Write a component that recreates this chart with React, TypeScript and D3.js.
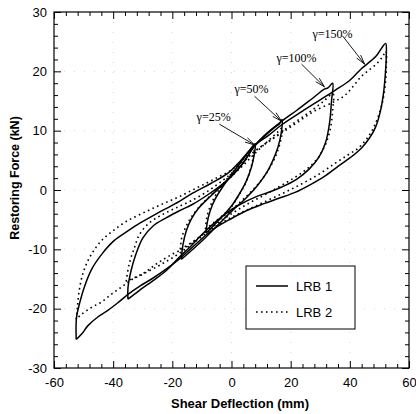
import React, { useEffect, useRef } from 'react';
import * as d3 from 'd3';

// tick values
const xTicks = [-60, -40, -20, 0, 20, 40, 60];
const yTicks = [-30, -20, -10, 0, 10, 20, 30];

// hysteresis loops: [shear deflection (mm), restoring force (kN)]
// each loop goes from the negative tip up the loading branch and back down
const lrb1G25 = [
  [-8.6, -7.3], [-8.2, -5.5], [-7.2, -3.5], [-5.5, -1.5], [-3, 0.5], [0, 2.6], [3, 4.6], [6, 6.6], [8, 7.8],
  [7.7, 6], [6.7, 3.8], [5, 1.5], [2.5, -0.8], [0, -2.7], [-3, -4.4], [-6, -6.0], [-8.6, -7.3],
];
const lrb2G25 = [
  [-8.8, -6.6], [-8.4, -4.8], [-7.3, -2.9], [-5.5, -1.0], [-3, 0.9], [0, 2.8], [3, 4.6], [5.8, 6.2], [7.6, 7.2],
  [7.3, 5.4], [6.3, 3.3], [4.6, 1.0], [2.2, -1.1], [0, -2.8], [-3, -4.3], [-6, -5.5], [-8.8, -6.6],
];
const lrb1G50 = [
  [-17, -11.7], [-16.4, -9.2], [-15.3, -6.9], [-13.6, -4.9], [-11, -3.0], [-7, -1.0], [-3, 0.9], [0, 2.4],
  [4, 4.6], [7.5, 7.2], [11, 9.0], [14.5, 10.5], [16.3, 11.2], [17.1, 11.9],
  [16.9, 9.9], [15.7, 7.2], [14, 5.0], [12, 3.0], [9, 0.9], [5, -1.3], [0, -3.6], [-5, -6.1], [-10, -8.6],
  [-14, -10.4], [-17, -11.7],
];
const lrb2G50 = [
  [-17.3, -10], [-16.8, -8], [-15.5, -6.3], [-13.9, -4.8], [-11, -2.9], [-7, -0.9], [-3, 0.9], [0, 2.3],
  [4, 4.2], [8, 6.2], [12, 8.1], [15.5, 9.7], [17.2, 10.5],
  [16.7, 8.5], [15.3, 6.2], [13.2, 4.0], [10, 1.6], [6, -0.6], [1, -2.9], [-4, -5.0], [-9, -7.2],
  [-13, -8.7], [-17.3, -10],
];
const lrb1G100 = [
  [-35, -18.4], [-35, -16.5], [-34, -13.7], [-32.3, -10.8], [-30, -8.1], [-26.6, -6.1], [-22.1, -4.7],
  [-17.6, -3.5], [-13.1, -2.4], [-8, -0.8], [-3, 1.0], [0, 2.3], [4, 4.6], [7.5, 7.3], [12, 9.6], [17, 11.6],
  [22, 13.4], [27, 15.3], [31.4, 17.0], [32.6, 17.2], [34.2, 18.0],
  [33.8, 15], [33.2, 11.5], [31.8, 8], [29.5, 5.5], [26.4, 3.6], [22, 1.8], [17, 0.5], [13, -0.3], [8, -1.2],
  [3, -2.4], [0, -3.3], [-5, -5.2], [-10, -7.5], [-14, -9.6], [-17.6, -11.3], [-22.1, -13.6], [-26.6, -15.3],
  [-31.1, -16.9], [-35, -18.4],
];
const lrb2G100 = [
  [-35.6, -15.4], [-34.6, -12.5], [-32.8, -9.7], [-31.1, -7.5], [-27.7, -5.5], [-23.2, -4.1], [-18.7, -3.0],
  [-13.6, -1.8], [-8, -0.2], [-3, 1.6], [0, 2.8], [4, 4.7], [8, 6.6], [14, 8.7], [20, 10.9], [26, 13],
  [31, 14.9], [34.3, 16.2],
  [34.2, 13.5], [33.4, 10.3], [31.6, 7.5], [28.6, 5.0], [24, 3.0], [18, 1.1], [12, -0.6], [6, -2.2], [0, -4.0],
  [-6, -6.1], [-11, -8.0], [-15.3, -9.6], [-21, -11.1], [-25.5, -12.5], [-30, -14.1], [-35.6, -15.4],
];
const lrb1G150 = [
  [-52.5, -25.2], [-52.4, -21.5], [-51.4, -19.2], [-49.7, -16.3], [-47.2, -13.3], [-43.5, -10.6], [-39.6, -8.5],
  [-35, -6.9], [-31, -5.6], [-25, -3.9], [-19, -2.3], [-13, -0.5], [-7, 1.1], [-1.3, 2.8], [3, 4.9], [7.5, 7.4],
  [12.5, 9.2], [17, 11.0], [24, 13.3], [30, 15.2], [35, 16.8], [40, 18.5], [43.8, 20.4], [45.5, 21.1],
  [48.9, 22.6], [52.1, 24.7],
  [52.3, 22.5], [52, 19.5], [51.3, 16], [50.2, 13], [48.7, 10.6], [46.7, 8.8], [43.8, 7.0], [40, 5.4], [36, 4.0],
  [31.4, 2.3], [27, 1.0], [21.5, -0.4], [16, -1.4], [11, -2.3], [5, -3.5], [0, -4.8], [-6.4, -6.7], [-12, -9.1],
  [-17.6, -11.6], [-22, -13.3], [-27, -15], [-31, -16.2], [-35, -17.6], [-38.4, -19], [-41.8, -20.3],
  [-45.2, -21.4], [-48.6, -22.9], [-50.5, -24.2], [-52.5, -25.2],
];
const lrb2G150 = [
  [-52.5, -21.8], [-52.1, -19.8], [-51.5, -17], [-50.3, -14.2], [-48.6, -12], [-46.3, -10], [-43.5, -8.3],
  [-40.1, -6.9], [-35.6, -5.3], [-30, -3.9], [-24, -2.5], [-18, -1.2], [-12, 0.3], [-6, 1.8], [0, 3.4], [5, 5.4],
  [10, 7.3], [16, 9.3], [22, 11.3], [28, 13.3], [34.8, 14.9], [38.2, 15.9], [41, 17.4], [43.8, 19.1],
  [46.7, 20.3], [49.5, 21.5], [51.2, 22.6], [52.2, 23.4],
  [52.3, 20.5], [51.9, 17.5], [51, 14.7], [49.6, 12.4], [47.8, 10.3], [45.5, 8.5], [42.7, 7.0], [39.3, 5.9],
  [35, 4.5], [30, 2.8], [24, 1.1], [18, -0.4], [12, -1.8], [6, -3.2], [0, -4.6], [-6, -6.4], [-12, -8.6],
  [-18, -10.8], [-24, -12.6], [-30, -14.2], [-34, -15.2], [-37.3, -16.4], [-40.7, -17.6], [-44, -18.9],
  [-47.4, -19.8], [-50.8, -21], [-52.5, -21.8],
];

const lrb1Loops = [lrb1G25, lrb1G50, lrb1G100, lrb1G150];
const lrb2Loops = [lrb2G25, lrb2G50, lrb2G100, lrb2G150];

// annotation labels: text, text anchor point, arrow start, arrow end (data units)
const annotations = [
  { label: 'γ=25%', at: [-11.8, 11.7], from: [-4.1, 11.1], to: [7.8, 7.6] },
  { label: 'γ=50%', at: [1.0, 16.3], from: [7.8, 15.8], to: [16.9, 11.6] },
  { label: 'γ=100%', at: [15.2, 21.6], from: [23.7, 21.2], to: [31.4, 17.4] },
  { label: 'γ=150%', at: [27.4, 25.6], from: [37.5, 26.0], to: [45.0, 21.2] },
];

const legendItems = ['LRB 1', 'LRB 2'];

const W = 416;
const H = 414;
const sans = "'Liberation Sans', Arial, Helvetica, sans-serif";

export default function App() {
  const ref = useRef<SVGSVGElement>(null);

  useEffect(() => {
    const svg = d3.select(ref.current);
    svg.selectAll('*').remove();

    const margin = { top: 12, right: 7, bottom: 46, left: 54 };
    const x = d3.scaleLinear().domain([-60, 60]).range([margin.left, W - margin.right]);
    const y = d3.scaleLinear().domain([-30, 30]).range([H - margin.bottom, margin.top]);
    const x0 = x.range()[0], x1 = x.range()[1];
    const y0 = y.range()[1], y1 = y.range()[0];

    svg.append('rect').attr('width', W).attr('height', H).attr('fill', '#fff');

    // faint dotted grid from the scan
    const grid = svg.append('g').attr('stroke', '#999').attr('stroke-width', 0.8)
      .attr('stroke-dasharray', '1,9').attr('opacity', 0.5);
    grid.selectAll('line.v').data(xTicks.slice(1, -1)).join('line')
      .attr('x1', d => x(d)).attr('x2', d => x(d)).attr('y1', y0).attr('y2', y1);
    grid.selectAll('line.h').data(yTicks.slice(1, -1)).join('line').attr('class', 'h')
      .attr('x1', x0).attr('x2', x1).attr('y1', d => y(d)).attr('y2', d => y(d));

    const xMinor = d3.range(-60, 61, 4).filter(v => v % 20 !== 0);
    const yMinor = d3.range(-30, 31, 2).filter(v => v % 10 !== 0);
    const plain = (d: any) => String(d); // hyphen minus like the original

    const styleAxis = (g: any) => {
      g.select('.domain').remove();
      g.selectAll('line').attr('stroke', '#000').attr('stroke-width', 1);
      g.selectAll('text').attr('font-family', sans).attr('font-size', 13).attr('fill', '#000');
    };

    svg.append('g').attr('transform', `translate(0,${y1})`)
      .call(d3.axisBottom(x).tickValues(xTicks).tickSize(-7).tickPadding(10).tickFormat(plain))
      .call(styleAxis);
    svg.append('g').attr('transform', `translate(0,${y1})`)
      .call(d3.axisBottom(x).tickValues(xMinor).tickSize(-4).tickFormat(() => ''))
      .call(styleAxis);
    svg.append('g').attr('transform', `translate(0,${y0})`)
      .call(d3.axisTop(x).tickValues(xTicks).tickSize(-7).tickFormat(() => ''))
      .call(styleAxis);
    svg.append('g').attr('transform', `translate(0,${y0})`)
      .call(d3.axisTop(x).tickValues(xMinor).tickSize(-4).tickFormat(() => ''))
      .call(styleAxis);
    svg.append('g').attr('transform', `translate(${x0},0)`)
      .call(d3.axisLeft(y).tickValues(yTicks).tickSize(-7).tickPadding(7).tickFormat(plain))
      .call(styleAxis);
    svg.append('g').attr('transform', `translate(${x0},0)`)
      .call(d3.axisLeft(y).tickValues(yMinor).tickSize(-4).tickFormat(() => ''))
      .call(styleAxis);
    svg.append('g').attr('transform', `translate(${x1},0)`)
      .call(d3.axisRight(y).tickValues(yTicks).tickSize(-7).tickFormat(() => ''))
      .call(styleAxis);
    svg.append('g').attr('transform', `translate(${x1},0)`)
      .call(d3.axisRight(y).tickValues(yMinor).tickSize(-4).tickFormat(() => ''))
      .call(styleAxis);

    const line = d3.line<number[]>()
      .x(d => x(d[0]))
      .y(d => y(d[1]))
      .curve(d3.curveCatmullRom.alpha(0.5));

    svg.append('g').attr('fill', 'none').attr('stroke', '#000').attr('stroke-width', 1.6)
      .attr('stroke-dasharray', '1.6,3.4')
      .selectAll('path').data(lrb2Loops).join('path').attr('d', d => line(d));

    svg.append('g').attr('fill', 'none').attr('stroke', '#000').attr('stroke-width', 1.5)
      .attr('stroke-linejoin', 'round')
      .selectAll('path').data(lrb1Loops).join('path').attr('d', d => line(d));

    // frame
    svg.append('rect').attr('x', x0).attr('y', y0).attr('width', x1 - x0).attr('height', y1 - y0)
      .attr('fill', 'none').attr('stroke', '#000').attr('stroke-width', 1.2);

    // annotations
    const ann = svg.append('g');
    annotations.forEach(a => {
      ann.append('text').attr('x', x(a.at[0])).attr('y', y(a.at[1]))
        .attr('font-family', "'Liberation Serif', 'Times New Roman', serif").attr('font-size', 12)
        .text(a.label);
      const sx = x(a.from[0]), sy = y(a.from[1]), ex = x(a.to[0]), ey = y(a.to[1]);
      ann.append('line').attr('x1', sx).attr('y1', sy).attr('x2', ex).attr('y2', ey)
        .attr('stroke', '#000').attr('stroke-width', 0.9);
      const ang = Math.atan2(ey - sy, ex - sx);
      [-0.25, 0.25].forEach(off => {
        ann.append('line').attr('x1', ex).attr('y1', ey)
          .attr('x2', ex - 10 * Math.cos(ang + off)).attr('y2', ey - 10 * Math.sin(ang + off))
          .attr('stroke', '#000').attr('stroke-width', 0.9);
      });
    });

    // axis titles
    svg.append('text').attr('x', 240).attr('y', 408).attr('text-anchor', 'middle')
      .attr('font-family', sans).attr('font-weight', 'bold').attr('font-size', 13)
      .text('Shear Deflection (mm)');
    svg.append('text').attr('transform', `translate(19,${(y0 + y1) / 2 - 12}) rotate(-90)`)
      .attr('text-anchor', 'middle')
      .attr('font-family', sans).attr('font-weight', 'bold').attr('font-size', 12.5)
      .text('Restoring Force (kN)');

    // legend
    const lg = svg.append('g');
    lg.append('rect').attr('x', 246).attr('y', 266).attr('width', 109).attr('height', 63)
      .attr('fill', '#fff').attr('stroke', '#000').attr('stroke-width', 1);
    legendItems.forEach((name, i) => {
      const ly = 286 + i * 26;
      lg.append('line').attr('x1', 256).attr('x2', 288).attr('y1', ly).attr('y2', ly)
        .attr('stroke', '#000').attr('stroke-width', i === 0 ? 1.5 : 1.6)
        .attr('stroke-dasharray', i === 0 ? null : '1.6,3.4');
      lg.append('text').attr('x', 296).attr('y', ly + 5)
        .attr('font-family', sans).attr('font-size', 13).text(name);
    });
  }, []);

  return (
    <svg ref={ref} width={W} height={H}
      style={{ position: 'absolute', left: 0, top: 0, display: 'block' }} />
  );
}
